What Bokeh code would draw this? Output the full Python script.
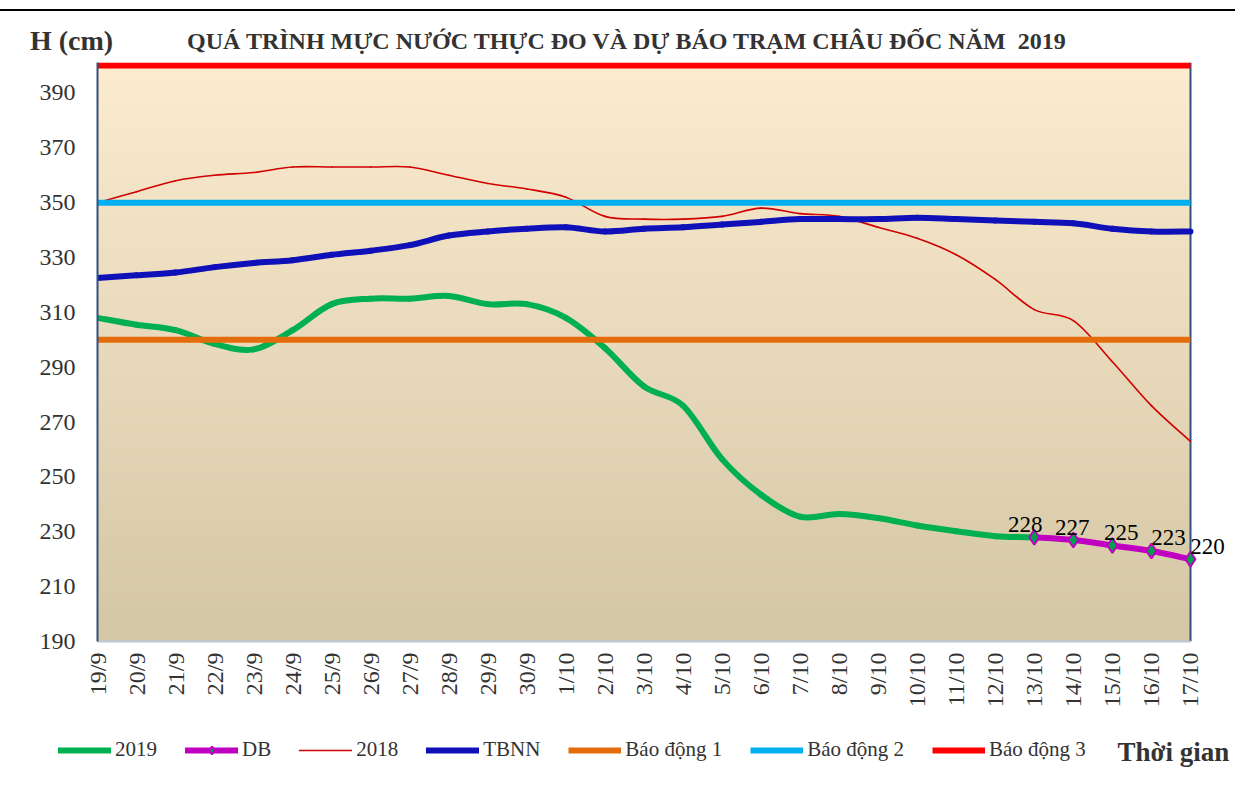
import numpy as np
from bokeh.plotting import figure
from bokeh.models import (Range1d, FixedTicker, Legend, LegendItem, Label, Div)
from bokeh.layouts import column
from bokeh.embed import file_html
from bokeh.resources import INLINE

# ---------------- data ----------------
dates = ["19/9", "20/9", "21/9", "22/9", "23/9", "24/9", "25/9", "26/9", "27/9",
         "28/9", "29/9", "30/9", "1/10", "2/10", "3/10", "4/10", "5/10", "6/10",
         "7/10", "8/10", "9/10", "10/10", "11/10", "12/10", "13/10", "14/10",
         "15/10", "16/10", "17/10"]

h2019 = [308, 305.5, 303.5, 298.5, 296.5, 303.5, 313, 315, 315, 316, 313, 313,
         308, 297, 283, 276, 256.5, 243.5, 235.5, 236.5, 235, 232.3, 230.2, 228.4, 228]
db_days = ["13/10", "14/10", "15/10", "16/10", "17/10"]
h_db = [228, 227, 225, 223, 220]
h2018 = [350, 354, 358, 360, 361, 363, 363, 363, 363, 360, 357, 355, 352, 345,
         344, 344, 345, 348, 346, 345, 341, 337, 331, 322, 311, 307, 292, 276, 263]
tbnn = [322.5, 323.5, 324.5, 326.5, 328, 329, 331, 332.5, 334.5, 338, 339.5, 340.5,
        341, 339.5, 340.5, 341, 342, 343, 344, 344, 344, 344.5, 344, 343.5, 343,
        342.5, 340.5, 339.5, 339.5]
bao_dong_1 = 300
bao_dong_2 = 350
bao_dong_3 = 400
y_ticks = [190, 210, 230, 250, 270, 290, 310, 330, 350, 370, 390]

title_text = "QUÁ TRÌNH MỰC NƯỚC THỰC ĐO VÀ DỰ BÁO TRẠM CHÂU ĐỐC NĂM  2019"
y_title = "H (cm)"
x_title = "Thời gian"
series_names = ["2019", "DB", "2018", "TBNN", "Báo động 1", "Báo động 2", "Báo động 3"]

idx = {d: i for i, d in enumerate(dates)}
x2019 = [idx[d] for d in dates[:len(h2019)]]
xdb = [idx[d] for d in db_days]
xall = list(range(len(dates)))
x_last = xall[-1]
levels = [bao_dong_1, bao_dong_2, bao_dong_3]

SERIF = "Liberation Serif"
Y0, Y1 = 190, 401.1

# styles
ST = {
    "2019": dict(line_color="#00B050", line_width=6, line_cap="round", line_join="round"),
    "DB": dict(line_color="#C000C0", line_width=6, line_cap="round", line_join="round"),
    "2018": dict(line_color="#D00000", line_width=1.6, line_cap="round", line_join="round"),
    "TBNN": dict(line_color="#1010B8", line_width=6, line_cap="round", line_join="round"),
    "Báo động 1": dict(line_color="#E46C0A", line_width=6),
    "Báo động 2": dict(line_color="#00B0F0", line_width=6),
    "Báo động 3": dict(line_color="#FF0000", line_width=6),
}
DB_MARK = dict(marker="diamond", fill_color="#00A050", line_color="#C000C0", line_width=2)


def smooth_line(fig, xs, ys, style):
    """Excel-style smoothed line: cubic Bezier segments through every data point."""
    x = np.asarray(xs, float)
    y = np.asarray(ys, float)
    xp = np.concatenate([[x[0]], x, [x[-1]]])
    yp = np.concatenate([[y[0]], y, [y[-1]]])
    k = 1.0 / 6.0
    cx0 = x[:-1] + (xp[2:-1] - xp[:-3]) * k
    cy0 = y[:-1] + (yp[2:-1] - yp[:-3]) * k
    cx1 = x[1:] - (xp[3:] - xp[1:-2]) * k
    cy1 = y[1:] - (yp[3:] - yp[1:-2]) * k
    return fig.bezier(x0=x[:-1], y0=y[:-1], x1=x[1:], y1=y[1:],
                      cx0=cx0, cy0=cy0, cx1=cx1, cy1=cy1, **style)


def no_align(fig):
    try:
        fig.frame_align = False
    except Exception:
        pass


# ---------------- header ----------------
header_html = f"""
<div style="position:relative;width:1235px;height:55px;font-family:'{SERIF}';color:#333333;">
  <div style="position:absolute;left:0px;top:9px;width:1235px;height:2px;background:#000000;"></div>
  <div style="position:absolute;left:30px;top:27px;font-size:28px;line-height:28px;font-weight:bold;white-space:pre;">{y_title}</div>
  <div style="position:absolute;left:187px;top:29px;font-size:24px;line-height:24px;font-weight:bold;white-space:pre;">{title_text}</div>
</div>
"""
header = Div(text=header_html, width=1235, height=55, margin=0)

# ---------------- main figure ----------------
p = figure(width=1235, height=663, output_backend="svg", toolbar_location=None,
           x_range=Range1d(0, x_last + 0.95), y_range=Range1d(Y0, Y1),
           min_border_left=97, min_border_right=8, min_border_top=7,
           min_border_bottom=77, background_fill_color="white",
           border_fill_color="white", outline_line_color=None)
p.grid.visible = False
no_align(p)

# background gradient (plot area)
n = 300
t = np.linspace(0, 1, n)[:, None]
bot = np.array([212, 199, 165])
top = np.array([253, 236, 208])
rgb = bot + (top - bot) * t
img = np.empty((n, 2), dtype=np.uint32)
view = img.view(dtype=np.uint8).reshape((n, 2, 4))
view[:, :, 0] = rgb[:, 0:1].astype(np.uint8)
view[:, :, 1] = rgb[:, 1:2].astype(np.uint8)
view[:, :, 2] = rgb[:, 2:3].astype(np.uint8)
view[:, :, 3] = 255
p.image_rgba(image=[img], x=0, y=Y0, dw=x_last, dh=Y1 - Y0)

# right border of the plot area
p.vspan(x=[x_last], line_color="#2F5080", line_width=2)

smooth_line(p, x2019, h2019, ST["2019"])
smooth_line(p, xdb, h_db, ST["DB"])
p.scatter(xdb, h_db, size=15, **DB_MARK)
smooth_line(p, xall, h2018, ST["2018"])
smooth_line(p, xall, tbnn, ST["TBNN"])
for name, lvl in zip(series_names[4:], levels):
    p.segment(x0=[0], x1=[x_last], y0=[lvl], y1=[lvl], **ST[name])

# DB value labels
dxs = [-9, -1, 9, 17, 17]
for xi, v, dx in zip(xdb, h_db, dxs):
    p.add_layout(Label(x=xi, y=v, text=f"{v:g}", x_offset=dx, y_offset=13,
                       text_align="center", text_baseline="alphabetic",
                       text_font=SERIF, text_font_size="23px", text_color="black"))

# axes
xa = p.xaxis[0]
xa.ticker = FixedTicker(ticks=xall)
xa.bounds = (0, x_last)
xa.major_label_overrides = {i: d for i, d in enumerate(dates)}
xa.major_label_orientation = np.pi / 2
xa.major_label_text_font = SERIF
xa.major_label_text_font_size = "24px"
xa.major_label_text_color = "#333333"
xa.major_tick_line_color = None
xa.minor_tick_line_color = None
xa.major_tick_out = 0
xa.major_tick_in = 0
xa.major_label_standoff = 11
xa.axis_line_color = "#BCC8DA"
xa.axis_line_width = 2

ya = p.yaxis[0]
ya.ticker = FixedTicker(ticks=y_ticks)
ya.major_label_text_font = SERIF
ya.major_label_text_font_size = "24px"
ya.major_label_text_color = "#333333"
ya.major_tick_line_color = None
ya.minor_tick_line_color = None
ya.major_tick_out = 0
ya.major_tick_in = 0
ya.major_label_standoff = 22
ya.axis_line_color = "#2F5080"
ya.axis_line_width = 2

# ---------------- footer (legend) ----------------
# same series drawn on a strip whose ranges lie outside the data, so only the legend shows
f = figure(width=1235, height=80, output_backend="svg", toolbar_location=None,
           x_range=Range1d(-3, -2), y_range=Range1d(-3, -2),
           x_axis_location=None, y_axis_location=None,
           min_border=0, outline_line_color=None,
           background_fill_color="white", border_fill_color="white")
f.grid.visible = False
f.title.visible = False
no_align(f)
frs = {
    "2019": [f.line(x2019, h2019, **ST["2019"])],
    "DB": [f.line(xdb, h_db, **ST["DB"]), f.scatter(xdb, h_db, size=8, **DB_MARK)],
    "2018": [f.line(xall, h2018, **ST["2018"])],
    "TBNN": [f.line(xall, tbnn, **ST["TBNN"])],
}
for name, lvl in zip(series_names[4:], levels):
    frs[name] = [f.segment(x0=[0], x1=[x_last], y0=[lvl], y1=[lvl], **ST[name])]
items = [LegendItem(label=name, renderers=frs[name]) for name in series_names]

legend = Legend(items=items, orientation="horizontal", location=(58, 36),
                label_text_font=SERIF, label_text_font_size="21px",
                label_text_color="#333333",
                glyph_width=53, glyph_height=20, label_standoff=4, spacing=28,
                padding=0, margin=0, background_fill_alpha=0, border_line_color=None)
f.add_layout(legend)
f.add_layout(Label(x=1117, y=47, x_units="screen", y_units="screen", text=x_title,
                   text_font=SERIF, text_font_style="bold", text_font_size="27px",
                   text_color="#333333", text_baseline="alphabetic"))

layout = column(header, p, f, spacing=0)
open("out.html", "w").write(file_html(layout, INLINE))
